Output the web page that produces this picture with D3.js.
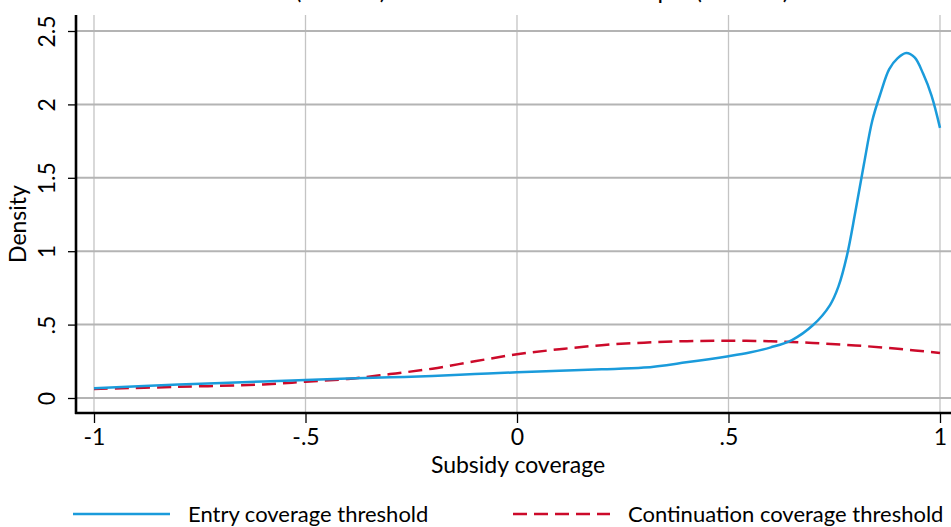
<!DOCTYPE html>
<html>
<head>
<meta charset="utf-8">
<script src="https://cdn.jsdelivr.net/npm/d3@7"></script>
<style>
  body { margin: 0; background: #fff; }
  svg { display: block; font-family: Lato, "Open Sans", sans-serif; }
</style>
</head>
<body>
<svg id="chart" width="951" height="527"></svg>
<script>
// subsidy coverage grid (x) and the two kernel densities
const coverage = [-1, -0.8, -0.6, -0.5, -0.4, -0.3, -0.2, -0.1, 0, 0.1, 0.2, 0.3, 0.4, 0.5, 0.55, 0.6, 0.65, 0.7,
    0.74, 0.76, 0.78, 0.8, 0.82, 0.84, 0.86, 0.88, 0.9, 0.92, 0.94, 0.96, 0.98, 1];
const entryDensity = [0.066, 0.092, 0.112, 0.123, 0.132, 0.141, 0.150, 0.163, 0.175, 0.185, 0.195, 0.207, 0.243, 0.285, 0.31, 0.345, 0.395, 0.497,
    0.633, 0.76, 0.97, 1.27, 1.59, 1.89, 2.08, 2.24, 2.315, 2.35, 2.32, 2.21, 2.06, 1.84];
const contCoverage = [-1, -0.8, -0.6, -0.5, -0.4, -0.3, -0.2, -0.1, 0, 0.1, 0.2, 0.3, 0.4, 0.5, 0.6, 0.7, 0.8, 0.9, 1];
const contDensity = [0.062, 0.076, 0.092, 0.111, 0.13, 0.163, 0.20, 0.25, 0.298, 0.332, 0.36, 0.377, 0.387, 0.39, 0.387, 0.375, 0.358, 0.335, 0.307];

const xTicks = [-1, -0.5, 0, 0.5, 1];
const xTickLabels = ["-1", "-.5", "0", ".5", "1"];
const yTicks = [0, 0.5, 1, 1.5, 2, 2.5];
const yTickLabels = ["0", ".5", "1", "1.5", "2", "2.5"];
const seriesNames = ["Entry coverage threshold", "Continuation coverage threshold"];

const blue = "#1a9bdb";
const red = "#cc0a2a";

const svg = d3.select("#chart");

const x = d3.scaleLinear().domain([-1, 1]).range([94, 940]);
const y = d3.scaleLinear().domain([0, 2.5]).range([398, 31]);

// title, mostly cut off by the top edge
svg.append("text")
    .attr("x", 505)
    .attr("y", -1)
    .attr("text-anchor", "middle")
    .style("font-size", "24px")
    .text("Kernel (smooth) estimates for the full sample (all firms)");

// grid
svg.append("g").selectAll("line")
    .data(xTicks)
    .enter()
    .append("line")
    .attr("x1", d => x(d)).attr("x2", d => x(d))
    .attr("y1", 15).attr("y2", 413)
    .attr("stroke", "#c4c4c4")
    .attr("stroke-width", 1.3);

svg.append("g").selectAll("line")
    .data(yTicks)
    .enter()
    .append("line")
    .attr("x1", 76).attr("x2", 951)
    .attr("y1", d => y(d)).attr("y2", d => y(d))
    .attr("stroke", "#b4b4b4")
    .attr("stroke-width", 2);

// axes
const xAxis = d3.axisBottom(x)
    .tickValues(xTicks)
    .tickFormat((d, i) => xTickLabels[i])
    .tickSize(10)
    .tickPadding(6);

const gx = svg.append("g")
    .attr("transform", "translate(0,413)")
    .call(xAxis);
gx.select(".domain").remove();
gx.selectAll(".tick line").attr("stroke", "#000").attr("stroke-width", 1.3);
gx.selectAll(".tick text")
    .style("font-size", "23px")
    .style("font-family", "Lato, sans-serif")
    .attr("fill", "#000");

const yAxis = d3.axisLeft(y)
    .tickValues(yTicks)
    .tickFormat((d, i) => yTickLabels[i])
    .tickSize(8)
    .tickPadding(0);

const gy = svg.append("g")
    .attr("transform", "translate(76,0)")
    .call(yAxis);
gy.select(".domain").remove();
gy.selectAll(".tick line").attr("stroke", "#000").attr("stroke-width", 1.3);
gy.selectAll(".tick text")
    .attr("x", null).attr("dy", null)
    .attr("text-anchor", "middle")
    .attr("transform", "translate(-21,0) rotate(-90)")
    .style("font-size", "23px")
    .style("font-family", "Lato, sans-serif")
    .attr("fill", "#000");

// axis lines
svg.append("line")
    .attr("x1", 76).attr("x2", 76).attr("y1", 15).attr("y2", 414)
    .attr("stroke", "#000").attr("stroke-width", 2.6);
svg.append("line")
    .attr("x1", 75).attr("x2", 951).attr("y1", 413).attr("y2", 413)
    .attr("stroke", "#000").attr("stroke-width", 2.6);

// axis titles
svg.append("text")
    .attr("transform", "translate(26,224) rotate(-90)")
    .attr("text-anchor", "middle")
    .style("font-size", "23px")
    .text("Density");

svg.append("text")
    .attr("x", 518)
    .attr("y", 473)
    .attr("text-anchor", "middle")
    .style("font-size", "23px")
    .text("Subsidy coverage");

// density lines
const line = d3.line()
    .x(d => x(d[0]))
    .y(d => y(d[1]))
    .curve(d3.curveCatmullRom.alpha(0.5));

svg.append("path")
    .datum(d3.zip(contCoverage, contDensity))
    .attr("d", line)
    .attr("fill", "none")
    .attr("stroke", red)
    .attr("stroke-width", 2.5)
    .attr("stroke-dasharray", "14,7");

svg.append("path")
    .datum(d3.zip(coverage, entryDensity))
    .attr("d", line)
    .attr("fill", "none")
    .attr("stroke", blue)
    .attr("stroke-width", 2.5);

// legend
const legend = [
    { name: seriesNames[0], color: blue, dash: null, x0: 73 },
    { name: seriesNames[1], color: red, dash: "14,7", x0: 513 }
];
legend.forEach(l => {
    svg.append("line")
        .attr("x1", l.x0).attr("x2", l.x0 + 97)
        .attr("y1", 514).attr("y2", 514)
        .attr("stroke", l.color)
        .attr("stroke-width", 2.5)
        .attr("stroke-dasharray", l.dash);
    svg.append("text")
        .attr("x", l.x0 + 115)
        .attr("y", 522)
        .style("font-size", "22px")
        .text(l.name);
});
</script>
</body>
</html>
